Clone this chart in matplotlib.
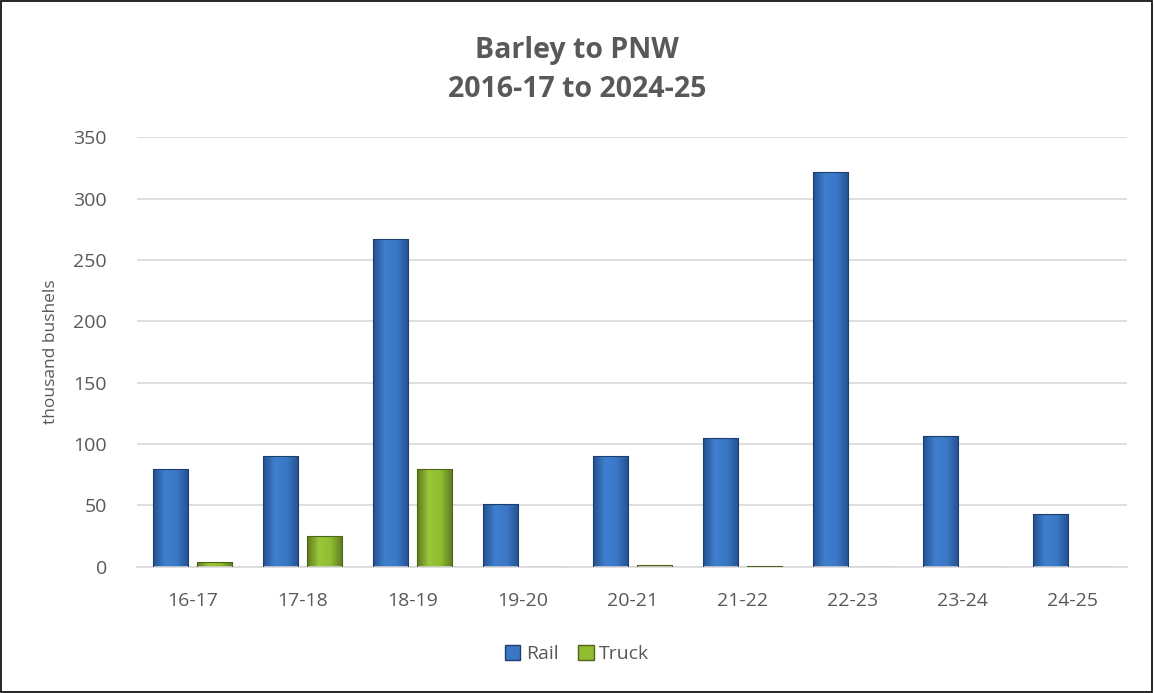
import numpy as np
import matplotlib.pyplot as plt
from matplotlib.colors import LinearSegmentedColormap

# values (thousand bushels)
seasons = ['16-17', '17-18', '18-19', '19-20', '20-21', '21-22', '22-23', '23-24', '24-25']
rail = [80, 90, 267, 51, 90, 105, 322, 107, 43]
truck = [4, 25, 80, 0, 1.5, 0.5, 0, 0.3, 0]

plt.rcParams['font.family'] = ['Open Sans', 'DejaVu Sans']
gray = '#595959'

fig = plt.figure(figsize=(11.54, 6.93), dpi=100)
ax = fig.add_axes([0.119, 0.182, 0.858, 0.620])

x = np.arange(len(seasons))
w = 0.32

rail_cmap = LinearSegmentedColormap.from_list('rail', ['#24518f', '#3f7fcf', '#3a78c6', '#24518f'])
truck_cmap = LinearSegmentedColormap.from_list('truck', ['#5e7a1f', '#9bc83a', '#8fbc30', '#5e7a1f'])
grad = np.linspace(0, 1, 64).reshape(1, -1)


def draw_bars(xs, vals, cmap, edge):
    bars = ax.bar(xs, vals, w, color='none', edgecolor=edge, linewidth=0.8, zorder=3)
    for b in bars:
        h = b.get_height()
        if h <= 0:
            continue
        x0 = b.get_x()
        im = ax.imshow(grad, cmap=cmap, aspect='auto', zorder=2.5,
                       extent=[x0, x0 + w, 0, h], interpolation='bicubic')
        im.set_clip_path(b)
    return bars


rb = draw_bars(x - 0.2, rail, rail_cmap, '#1e3f6e')
tb = draw_bars(x + 0.2, truck, truck_cmap, '#4d6419')

ax.set_xlim(-0.5, len(seasons) - 0.5)
ax.set_ylim(0, 350)
ax.set_yticks(range(0, 351, 50))
ax.set_xticks(x)
ax.set_xticklabels(seasons)
ax.yaxis.grid(True, color='#d9d9d9', linewidth=1.2, zorder=0)
ax.set_axisbelow(True)
for s in ['top', 'right', 'left']:
    ax.spines[s].set_visible(False)
ax.spines['bottom'].set_color('#d9d9d9')
ax.spines['bottom'].set_linewidth(1.2)
ax.tick_params(axis='both', length=0, labelsize=14, colors=gray)
ax.tick_params(axis='x', pad=18)
ax.tick_params(axis='y', pad=22)
ax.set_ylabel('thousand bushels', fontsize=12.5, color=gray, labelpad=10)

fig.suptitle('Barley to PNW\n2016-17 to 2024-25', fontsize=20.5, fontweight='bold',
             color=gray, y=0.948, linespacing=1.45)

rail_h = plt.Rectangle((0, 0), 1, 1, facecolor='#3a78c6', edgecolor='#1e3f6e')
truck_h = plt.Rectangle((0, 0), 1, 1, facecolor='#8fbc30', edgecolor='#4d6419')
fig.legend([rail_h, truck_h], ['Rail', 'Truck'], loc='center', bbox_to_anchor=(0.5, 0.056),
           ncol=2, frameon=False, fontsize=14, labelcolor=gray, handlelength=0.8,
           handleheight=0.8, handletextpad=0.3, columnspacing=1.0)

fig.patches.append(plt.Rectangle((0.001, 0.002), 0.997, 0.996, transform=fig.transFigure,
                                 fill=False, edgecolor='black', linewidth=1.2))

fig.savefig('out.png', dpi=100)
